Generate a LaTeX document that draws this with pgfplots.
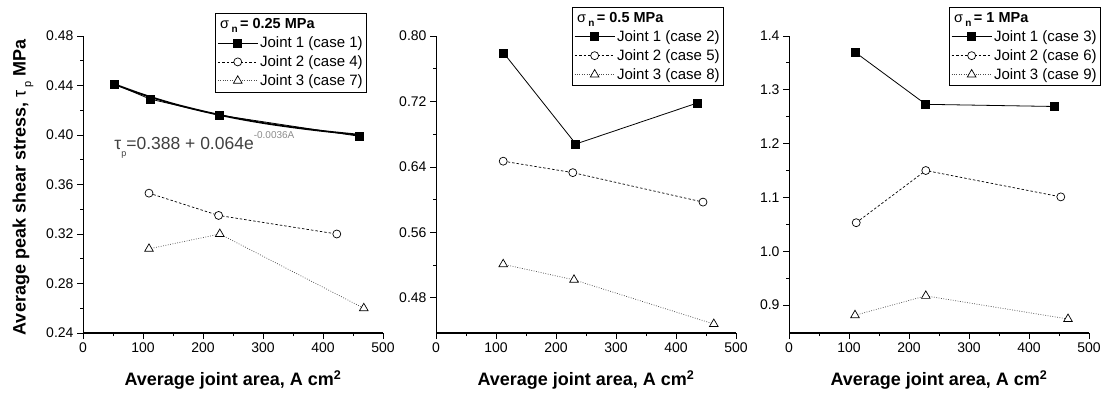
\documentclass[border=0pt]{standalone}
\usepackage{fontspec}
\setmainfont{Liberation Sans}
\usepackage{pgfplots}
\pgfplotsset{compat=1.18}

\pgfplotsset{
 panel/.style={
   scale only axis, width=300pt, height=297pt,
   xmin=0, xmax=500, xtick={0,100,...,500},
   axis x line*=bottom, axis y line*=left,
   clip=false,
   tick align=outside, major tick length=6pt, minor tick length=3pt,
   minor tick num=1,
   axis line style={line width=1pt},
   every tick/.style={black, line width=0.8pt},
   tick label style={font=\fontsize{14}{16}\selectfont},
   /pgf/number format/assume math mode=true,
   xlabel={\bfseries Average joint area, A cm\textsuperscript{2}},
   xlabel style={font=\fontsize{18}{20}\selectfont, at={(axis description cs:0.5,0)}, anchor=center, yshift=-47pt},
   legend cell align=left,
   legend style={font=\fontsize{15}{17}\selectfont, draw=black, line width=0.8pt, inner xsep=2pt, inner ysep=3pt, row sep=2.5pt,
     /tikz/every even column/.append style={column sep=2pt}},
   legend image code/.code={\draw[mark repeat=2, mark phase=2] plot coordinates {(0pt,0pt) (20pt,0pt) (40pt,0pt)};},
 },
 j1/.style={black, line width=0.8pt, mark=square*, mark size=4pt, mark options={solid, fill=black}},
 j2/.style={black, line width=0.7pt, dash pattern=on 2.5pt off 2pt, mark=*, mark size=4pt, mark options={solid, draw=black, fill=white}},
 j3/.style={black!70, line width=0.7pt, dash pattern=on 0.8pt off 1.6pt, mark=triangle*, mark size=5pt, mark options={solid, draw=black, fill=white}},
}
\newcommand{\legtitle}[1]{\addlegendimage{legend image code/.code={\node[overlay, anchor=west, inner sep=0pt, font=\fontsize{14.5}{16}\selectfont] at (2pt,0pt) {σ\,\raisebox{-0.5ex}{\fontsize{10}{10}\selectfont\bfseries n}\,\textbf{= #1 MPa}};}}\addlegendentry{\vphantom{Jg}}}

\begin{document}
\begin{tikzpicture}
\path[use as bounding box] (0pt,0pt) rectangle (1110pt,396pt);

% Panel 1
\begin{axis}[panel, at={(83pt,63pt)}, anchor=south west,
  ymin=0.24, ymax=0.48, ytick={0.24,0.28,0.32,0.36,0.40,0.44,0.48},
  yticklabel style={/pgf/number format/.cd, fixed, fixed zerofill, precision=2},
  ylabel={{\bfseries Average peak shear stress,} τ\,\raisebox{-0.6ex}{\fontsize{11}{11}\selectfont p} {\bfseries MPa}},
  ylabel style={font=\fontsize{18}{20}\selectfont, at={(axis description cs:-0.2,0.49)}, anchor=center},
  legend style={at={(axis description cs:0.947,1.077)}, anchor=north east}]
\legtitle{0.25}
\addplot[j1] coordinates {(53,0.441) (112,0.429) (228,0.416) (460,0.399)};
\addlegendentry{Joint 1 (case 1)}
\addplot[j2] coordinates {(110,0.353) (226,0.335) (423,0.320)};
\addlegendentry{Joint 2 (case 4)}
\addplot[j3] coordinates {(110,0.308) (228,0.320) (468,0.260)};
\addlegendentry{Joint 3 (case 7)}
\addplot[black, line width=1.8pt, smooth, forget plot] coordinates {(53,0.4409) (100,0.4327) (150,0.4253) (200,0.4192) (250,0.4140) (300,0.4097) (350,0.4062) (400,0.4032) (460,0.4002)};
\node[anchor=base west, inner sep=0pt, text=black!75, font=\fontsize{17.5}{19}\selectfont] at (axis cs:52,0.388)
  {τ\raisebox{-0.7ex}{\fontsize{9}{9}\selectfont p}=0.388 + 0.064e\raisebox{1.2ex}{\fontsize{10}{10}\selectfont\color{black!45}-0.0036A}};
\end{axis}

% Panel 2
\begin{axis}[panel, at={(436pt,63pt)}, anchor=south west,
  ymin=0.437, ymax=0.80, ytick={0.48,0.56,0.64,0.72,0.80},
  yticklabel style={/pgf/number format/.cd, fixed, fixed zerofill, precision=2},
  legend style={at={(axis description cs:0.96,1.098)}, anchor=north east}]
\legtitle{0.5}
\addplot[j1] coordinates {(113,0.779) (233,0.668) (435,0.718)};
\addlegendentry{Joint 1 (case 2)}
\addplot[j2] coordinates {(112,0.647) (228,0.633) (445,0.597)};
\addlegendentry{Joint 2 (case 5)}
\addplot[j3] coordinates {(112,0.521) (230,0.502) (463,0.448)};
\addlegendentry{Joint 3 (case 8)}
\end{axis}

% Panel 3
\begin{axis}[panel, at={(789pt,63pt)}, anchor=south west,
  ymin=0.848, ymax=1.4, ytick={0.9,1.0,1.1,1.2,1.3,1.4},
  yticklabel style={/pgf/number format/.cd, fixed, fixed zerofill, precision=1},
  legend style={at={(axis description cs:1.04,1.098)}, anchor=north east}]
\legtitle{1}
\addplot[j1] coordinates {(110,1.370) (228,1.273) (442,1.269)};
\addlegendentry{Joint 1 (case 3)}
\addplot[j2] coordinates {(112,1.053) (228,1.150) (453,1.101)};
\addlegendentry{Joint 2 (case 6)}
\addplot[j3] coordinates {(110,0.881) (228,0.917) (465,0.874)};
\addlegendentry{Joint 3 (case 9)}
\end{axis}
\end{tikzpicture}
\end{document}
